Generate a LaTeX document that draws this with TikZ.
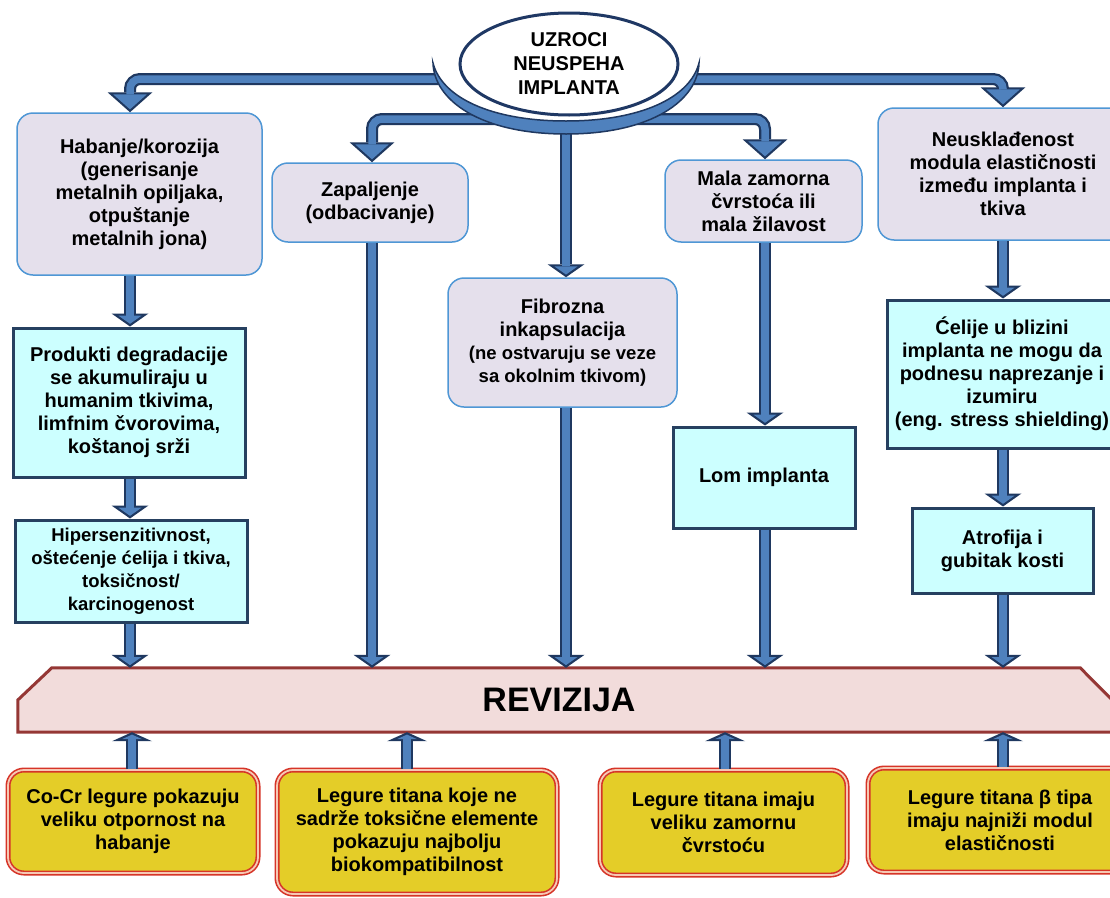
\documentclass[tikz,border=0pt]{standalone}
\usepackage{fontspec}
\setmainfont{Liberation Sans}
\usepackage{tikz}
\usetikzlibrary{shapes.geometric, arrows.meta, positioning, calc}
\definecolor{causefill}{RGB}{229, 224, 236}
\definecolor{causeline}{RGB}{79, 151, 213}
\definecolor{effectfill}{RGB}{204, 255, 255}
\definecolor{effectline}{RGB}{38, 64, 96}
\definecolor{alloyfill}{RGB}{228, 205, 40}
\definecolor{alloyred}{RGB}{214, 52, 40}
\definecolor{alloygap}{RGB}{246, 200, 180}
\definecolor{revfill}{RGB}{242, 220, 219}
\definecolor{revline}{RGB}{149, 55, 53}
\definecolor{arrowfill}{RGB}{79, 129, 189}
\definecolor{arrowline}{RGB}{31, 56, 96}
\definecolor{ovalline}{RGB}{31, 56, 100}
\newcommand{\cellfont}{\bfseries\fontsize{20}{23}\selectfont}
\newcommand{\smallcell}{\fontsize{18.5}{21.5}\selectfont}

\tikzset{
  causebox/.style={draw=causeline, line width=1.5pt, fill=causefill, rounded corners=16pt},
  effectbox/.style={draw=effectline, line width=3pt, fill=effectfill},
  alloybox/.style={draw=alloyred, double=alloygap, double distance=1.8pt, line width=1.6pt,
    fill=alloyfill, rounded corners=16pt},
  banner/.style={draw=revline, line width=3pt, fill=revfill},
  % thick outlined arrows: dark pass underneath, blue pass on top
  fat/.style={preaction={draw=arrowline, line width=12pt, shorten >=0pt,
      -{Triangle[length=13pt, width=37pt, line width=0pt]}},
    draw=arrowfill, line width=7.5pt, shorten >=2.7pt,
    -{Triangle[length=8.1pt, width=23pt, line width=0pt]}},
  fatbend/.style={preaction={draw=arrowline, line width=12pt, shorten >=0pt,
      -{Triangle[length=20pt, width=45pt, line width=0pt]}},
    draw=arrowfill, line width=7.5pt, shorten >=2.9pt, rounded corners=10pt,
    -{Triangle[length=14.9pt, width=33.4pt, line width=0pt]}},
  fatup/.style={preaction={draw=arrowline, line width=12pt, shorten >=0pt,
      -{Triangle[length=9pt, width=40pt, line width=0pt]}},
    draw=arrowfill, line width=7.5pt, shorten >=2.4pt,
    -{Triangle[length=4.4pt, width=19.5pt, line width=0pt]}},
  bowl/.style={draw=arrowline, line width=1.5pt, fill=arrowfill}
}

\begin{document}
\begin{tikzpicture}[x=1pt, y=-1pt,
    every node/.style={font=\cellfont, align=center, inner sep=0pt}]
\path[use as bounding box] (0,0) rectangle (1110,897);
\clip (0,0) rectangle (1110,897);

% arrow columns
\coordinate (colA) at (130,0);
\coordinate (colB) at (372,0);
\coordinate (colC) at (566,0);
\coordinate (colD) at (765,0);
\coordinate (colE) at (1003,0);
\coordinate (upA) at (132,0);
\coordinate (upB) at (407,0);
\coordinate (upC) at (725,0);
\coordinate (upD) at (1003,0);
\coordinate (hub) at (566,79);
\coordinate (hublow) at (566,119);

% causes
\node[causebox, minimum width=245pt, minimum height=162pt] (habanje) at (139.5,194)
  {Habanje/korozija\\(generisanje\\metalnih opiljaka,\\otpuštanje\\metalnih jona)};
\node[causebox, minimum width=196pt, minimum height=79pt] (zapaljenje) at (370,202.5)
  {Zapaljenje\\(odbacivanje)};
\node[causebox, minimum width=229pt, minimum height=129pt] (fibrozna) at (562.5,342.5)
  {Fibrozna\\inkapsulacija\\\smallcell (ne ostvaruju se veze\\\smallcell sa okolnim tkivom)};
\node[causebox, minimum width=197pt, minimum height=82pt] (mala) at (763.5,201)
  {Mala zamorna\\čvrstoća ili\\mala žilavost};
\node[causebox, minimum width=250pt, minimum height=132pt] (neusk) at (1003,174)
  {Neusklađenost\\modula elastičnosti\\između implanta i\\tkiva};

% consequences
\node[effectbox, minimum width=232pt, minimum height=149pt] (produkti) at (129,402.5)
  {Produkti degradacije\\se akumuliraju u\\humanim tkivima,\\limfnim čvorovima,\\koštanoj srži};
\node[effectbox, minimum width=232pt, minimum height=102pt] (hipersenz) at (131,571)
  {\smallcell Hipersenzitivnost,\\\smallcell oštećenje ćelija i tkiva,\\\smallcell toksičnost/\\\smallcell karcinogenost};
\node[effectbox, minimum width=182pt, minimum height=101pt] (lom) at (764,477.5)
  {Lom implanta};
\node[effectbox, minimum width=230pt, minimum height=148pt] (celije) at (1002,374)
  {Ćelije u blizini\\implanta ne mogu da\\podnesu naprezanje i\\izumiru\\(eng. stress shielding)};
\node[effectbox, minimum width=181pt, minimum height=85pt] (atrofija) at (1002.5,550.5)
  {Atrofija i\\gubitak kosti};

% alloys
\node[alloybox, minimum width=250pt, minimum height=103pt] (cocr) at (133,821.5)
  {Co-Cr legure pokazuju\\veliku otpornost na\\habanje};
\node[alloybox, minimum width=280pt, minimum height=124pt] (kojene) at (417,832)
  {Legure titana koje ne\\sadrže toksične elemente\\pokazuju najbolju\\biokompatibilnost};
\node[alloybox, minimum width=247pt, minimum height=105pt] (imaju) at (723.5,822.5)
  {Legure titana imaju\\veliku zamornu\\čvrstoću};
\node[alloybox, minimum width=264pt, minimum height=104pt] (beta) at (1000,820)
  {Legure titana β tipa\\imaju najniži modul\\elastičnosti};

% revision banner
\node[minimum width=1094pt, minimum height=64pt] (revizija) at (565,700) {};
\draw[banner] (revizija.south west) -- (revizija.west) -- ([xshift=34pt]revizija.north west)
  -- ([xshift=-32pt]revizija.north east) -- (revizija.east) -- (revizija.south east) -- cycle;
\node[font=\bfseries\fontsize{34}{40}\selectfont] at ([xshift=-6pt]revizija.center) {REVIZIJA};

% branches from the oval
\draw[fatbend] (hub) -| (habanje.north -| colA);
\draw[fatbend] (hub) -| (neusk.north -| colE);
\draw[fatbend] (hublow) -| (zapaljenje.north -| colB);
\draw[fatbend] (hublow) -| (mala.north -| colD);
\draw[fat] (hublow) -- (fibrozna.north -| colC);

% chains down to the banner
\draw[fat] (habanje.south -| colA) -- (produkti.north -| colA);
\draw[fat] (produkti.south -| colA) -- (hipersenz.north -| colA);
\draw[fat] (hipersenz.south -| colA) -- (revizija.north -| colA);
\draw[fat] (zapaljenje.south -| colB) -- (revizija.north -| colB);
\draw[fat] (fibrozna.south -| colC) -- (revizija.north -| colC);
\draw[fat] (mala.south -| colD) -- (lom.north -| colD);
\draw[fat] (lom.south -| colD) -- (revizija.north -| colD);
\draw[fat] (neusk.south -| colE) -- (celije.north -| colE);
\draw[fat] (celije.south -| colE) -- (atrofija.north -| colE);
\draw[fat] (atrofija.south -| colE) -- (revizija.north -| colE);

% alloys up to the banner
\draw[fatup] (cocr.north -| upA) -- (revizija.south -| upA);
\draw[fatup] (kojene.north -| upB) -- (revizija.south -| upB);
\draw[fatup] (imaju.north -| upC) -- (revizija.south -| upC);
\draw[fatup] (beta.north -| upD) -- (revizija.south -| upD);

% bowl under the oval
\fill[white] (433,63) .. controls (434,100) and (480,134) .. (566,134)
  .. controls (652,134) and (698,100) .. (699,63) -- cycle;
\draw[bowl] (433,63) .. controls (434,100) and (480,134) .. (566,134)
  .. controls (652,134) and (698,100) .. (699,63)
  .. controls (690,98) and (640,121) .. (566,121)
  .. controls (492,121) and (442,98) .. (433,63) -- cycle;
\node[ellipse, draw=ovalline, line width=3pt, fill=white, minimum width=218pt,
  minimum height=102pt, font=\bfseries\fontsize{20}{24}\selectfont] (uzroci) at (569,64)
  {UZROCI\\NEUSPEHA\\IMPLANTA};
\end{tikzpicture}
\end{document}
